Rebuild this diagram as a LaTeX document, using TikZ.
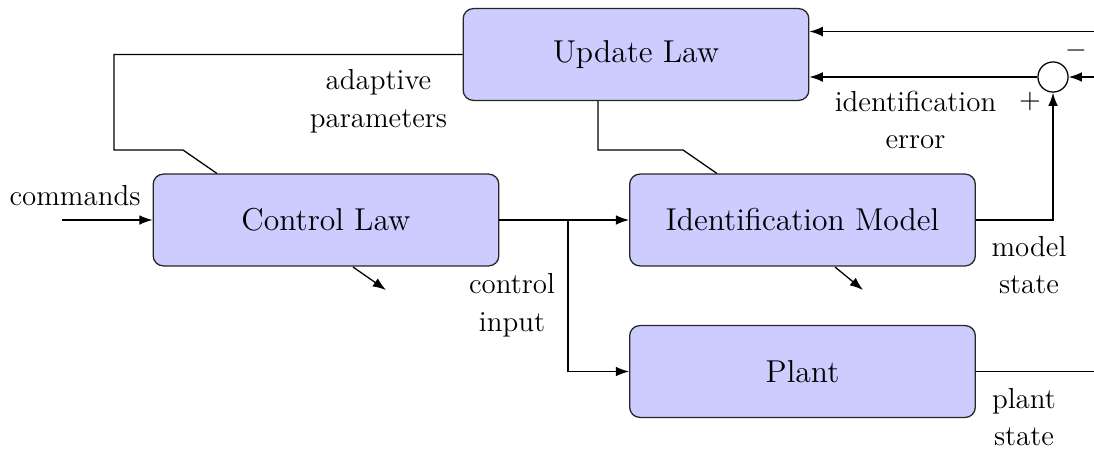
\documentclass[tikz,border=0pt]{standalone}
\usetikzlibrary{arrows.meta}
\definecolor{blockfill}{RGB}{204,204,255}
\begin{document}
\begin{tikzpicture}[
    x=0.392pt, y=-0.392pt,
    line width=0.5pt,
    >={Latex[length=5.2pt,width=3.8pt]},
    block/.style={draw=black!85, fill=blockfill, rounded corners=4pt,
      minimum width=135.5pt, minimum height=36pt, inner sep=0pt,
      font=\fontsize{12.4}{15}\selectfont},
    lbl/.style={font=\fontsize{11.35}{14.8}\selectfont, align=center, inner sep=0pt},
    sumnode/.style={draw, circle, minimum size=11.8pt, inner sep=0pt}
  ]
  \useasboundingbox (0,0) rectangle (1094,450);

  % blocks
  \node[block] (upd)   at (636,54.5)    {Update Law};
  \node[block] (ctrl)  at (326,220)     {Control Law};
  \node[block] (ident) at (802.5,220)   {Identification Model};
  \node[block] (plant) at (802.5,371.5) {Plant};
  \node[sumnode] (sum) at (1053,77) {};

  % free ends and bends
  \coordinate (cmdin) at (62,220);
  \coordinate (refa)  at (1094,31.5);
  \coordinate (refb)  at (1094,77);
  \coordinate (split) at (568,220);
  \coordinate (pout)  at (1094,371.5);
  \coordinate (ap1) at (114,150);
  \coordinate (ap2) at (183,150);
  \coordinate (ap3) at (217,173.5);
  \coordinate (im1) at (598,150);
  \coordinate (im2) at (683,150);
  \coordinate (im3) at (717,173.5);
  \coordinate (cd1) at (353,267);
  \coordinate (cd2) at (386,290);
  \coordinate (id1) at (835,267);
  \coordinate (id2) at (863,290);

  % signal lines
  \draw[->] (cmdin) -- (ctrl.west);
  \draw[->] (refa) -- (upd.east |- refa);
  \draw[->] (refb) -- (sum.east);
  \draw[->] (sum.west) -- (upd.east |- sum);
  \draw[->] (ident.east) -| (sum.south);
  \draw (ctrl.east) -- (split);
  \draw[->] (split) -- (ident.west);
  \draw[->] (split) |- (plant.west);
  \draw (plant.east) -- (pout);
  \draw (upd.west) -| (ap1) -- (ap2) -- (ap3);
  \draw (upd.south -| im1) -- (im1) -- (im2) -- (im3);
  \draw[->] (cd1) -- (cd2);
  \draw[->] (id1) -- (id2);

  % labels
  \node[lbl] (lcmd) at (75,196)     {commands};
  \node[lbl] (lap)  at (378.5,101)  {adaptive\\parameters};
  \node[lbl] (lie)  at (915.5,120)  {identification\\error};
  \node[lbl] (lci)  at (512,305)    {control\\input};
  \node[lbl] (lms)  at (1029,265)   {model\\state};
  \node[lbl] (lps)  at (1024,417)   {plant\\state};
  \node[lbl] (lmin) at (1076,51)    {$-$};
  \node[lbl] (lpl)  at (1030,101.5) {$+$};
\end{tikzpicture}
\end{document}
